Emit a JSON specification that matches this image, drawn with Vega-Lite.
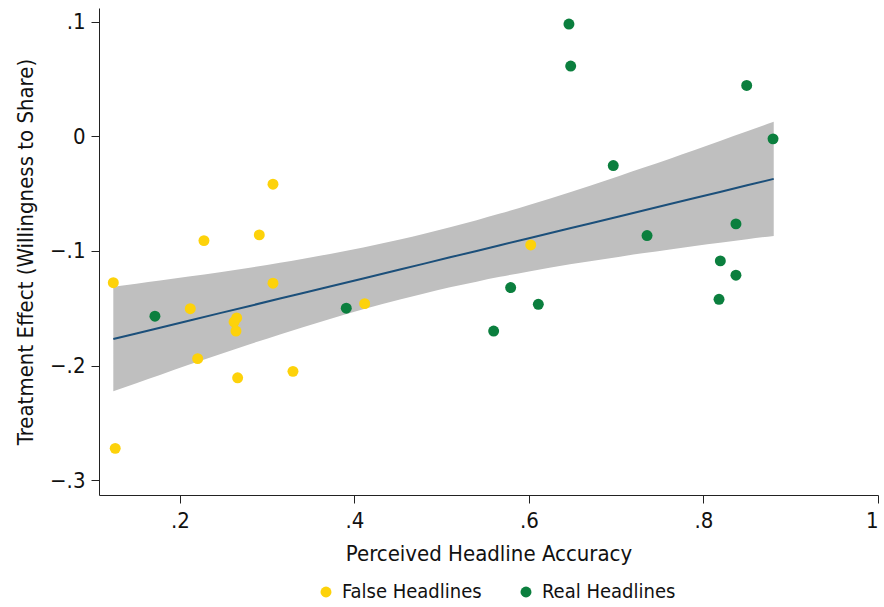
{
  "$schema": "https://vega.github.io/schema/vega-lite/v6.json",
  "width": 779,
  "height": 487,
  "autosize": "none",
  "padding": {"left": 99, "top": 8, "right": 6, "bottom": 112},
  "background": "white",
  "config": {
    "view": {"stroke": null},
    "font": "Liberation Sans Narrow, Arial Narrow, DejaVu Sans Condensed, sans-serif",
    "axis": {
      "labelFont": "Liberation Sans Narrow, Arial Narrow, DejaVu Sans Condensed, sans-serif",
      "titleFont": "Liberation Sans Narrow, Arial Narrow, DejaVu Sans Condensed, sans-serif",
      "labelFontSize": 22,
      "titleFontSize": 22,
      "titleFontWeight": "normal",
      "labelColor": "#111111",
      "titleColor": "#111111",
      "domainColor": "#222222",
      "tickColor": "#222222",
      "tickSize": 8,
      "grid": false
    },
    "legend": {
      "labelFont": "Liberation Sans Narrow, Arial Narrow, DejaVu Sans Condensed, sans-serif",
      "labelFontSize": 20,
      "labelColor": "#111111"
    }
  },
  "datasets": {
    "points": [
      {"acc": 0.1236, "te": -0.1277, "type": "False Headlines"},
      {"acc": 0.1258, "te": -0.2723, "type": "False Headlines"},
      {"acc": 0.3066, "te": -0.0418, "type": "False Headlines"},
      {"acc": 0.2275, "te": -0.0910, "type": "False Headlines"},
      {"acc": 0.2909, "te": -0.0860, "type": "False Headlines"},
      {"acc": 0.3066, "te": -0.1282, "type": "False Headlines"},
      {"acc": 0.2118, "te": -0.1504, "type": "False Headlines"},
      {"acc": 0.2650, "te": -0.1585, "type": "False Headlines"},
      {"acc": 0.2620, "te": -0.1620, "type": "False Headlines"},
      {"acc": 0.2642, "te": -0.1699, "type": "False Headlines"},
      {"acc": 0.2203, "te": -0.1940, "type": "False Headlines"},
      {"acc": 0.2661, "te": -0.2107, "type": "False Headlines"},
      {"acc": 0.3295, "te": -0.2051, "type": "False Headlines"},
      {"acc": 0.4117, "te": -0.1460, "type": "False Headlines"},
      {"acc": 0.6020, "te": -0.0948, "type": "False Headlines"},
      {"acc": 0.1713, "te": -0.1570, "type": "Real Headlines"},
      {"acc": 0.3906, "te": -0.1500, "type": "Real Headlines"},
      {"acc": 0.6458, "te": 0.0980, "type": "Real Headlines"},
      {"acc": 0.6478, "te": 0.0613, "type": "Real Headlines"},
      {"acc": 0.8495, "te": 0.0444, "type": "Real Headlines"},
      {"acc": 0.8797, "te": -0.0022, "type": "Real Headlines"},
      {"acc": 0.6966, "te": -0.0255, "type": "Real Headlines"},
      {"acc": 0.7353, "te": -0.0866, "type": "Real Headlines"},
      {"acc": 0.8372, "te": -0.0764, "type": "Real Headlines"},
      {"acc": 0.8193, "te": -0.1087, "type": "Real Headlines"},
      {"acc": 0.8372, "te": -0.1212, "type": "Real Headlines"},
      {"acc": 0.8178, "te": -0.1422, "type": "Real Headlines"},
      {"acc": 0.5790, "te": -0.1320, "type": "Real Headlines"},
      {"acc": 0.6107, "te": -0.1466, "type": "Real Headlines"},
      {"acc": 0.5595, "te": -0.1699, "type": "Real Headlines"}
    ],
    "fit": [
      {"acc": 0.1236, "fit": -0.1769, "lo": -0.2225, "hi": -0.1312},
      {"acc": 0.1500, "fit": -0.1720, "lo": -0.2154, "hi": -0.1286},
      {"acc": 0.1771, "fit": -0.1670, "lo": -0.2082, "hi": -0.1258},
      {"acc": 0.2100, "fit": -0.1609, "lo": -0.1994, "hi": -0.1224},
      {"acc": 0.2458, "fit": -0.1543, "lo": -0.1901, "hi": -0.1185},
      {"acc": 0.2800, "fit": -0.1480, "lo": -0.1814, "hi": -0.1146},
      {"acc": 0.3146, "fit": -0.1416, "lo": -0.1729, "hi": -0.1103},
      {"acc": 0.3400, "fit": -0.1369, "lo": -0.1668, "hi": -0.1070},
      {"acc": 0.3719, "fit": -0.1310, "lo": -0.1594, "hi": -0.1026},
      {"acc": 0.4100, "fit": -0.1240, "lo": -0.1510, "hi": -0.0970},
      {"acc": 0.4521, "fit": -0.1162, "lo": -0.1423, "hi": -0.0901},
      {"acc": 0.4800, "fit": -0.1111, "lo": -0.1371, "hi": -0.0851},
      {"acc": 0.5095, "fit": -0.1056, "lo": -0.1318, "hi": -0.0794},
      {"acc": 0.5400, "fit": -0.1000, "lo": -0.1268, "hi": -0.0732},
      {"acc": 0.5668, "fit": -0.0950, "lo": -0.1226, "hi": -0.0674},
      {"acc": 0.6000, "fit": -0.0889, "lo": -0.1179, "hi": -0.0599},
      {"acc": 0.6470, "fit": -0.0802, "lo": -0.1117, "hi": -0.0487},
      {"acc": 0.6700, "fit": -0.0760, "lo": -0.1089, "hi": -0.0431},
      {"acc": 0.7043, "fit": -0.0697, "lo": -0.1050, "hi": -0.0344},
      {"acc": 0.7300, "fit": -0.0649, "lo": -0.1021, "hi": -0.0277},
      {"acc": 0.7616, "fit": -0.0591, "lo": -0.0987, "hi": -0.0195},
      {"acc": 0.7900, "fit": -0.0538, "lo": -0.0957, "hi": -0.0119},
      {"acc": 0.8189, "fit": -0.0485, "lo": -0.0929, "hi": -0.0041},
      {"acc": 0.8500, "fit": -0.0427, "lo": -0.0898, "hi": 0.0044},
      {"acc": 0.8805, "fit": -0.0371, "lo": -0.0869, "hi": 0.0127}
    ]
  },
  "layer": [
    {
      "data": {"name": "fit"},
      "mark": {"type": "area", "color": "#bfbfbf", "opacity": 1, "interpolate": "monotone"},
      "encoding": {
        "x": {"field": "acc", "type": "quantitative"},
        "y": {"field": "lo", "type": "quantitative"},
        "y2": {"field": "hi"}
      }
    },
    {
      "data": {"name": "fit"},
      "mark": {"type": "line", "color": "#1b4f7a", "strokeWidth": 2},
      "encoding": {
        "x": {"field": "acc", "type": "quantitative"},
        "y": {"field": "fit", "type": "quantitative"}
      }
    },
    {
      "data": {"name": "points"},
      "mark": {"type": "circle", "size": 120, "opacity": 1},
      "encoding": {
        "x": {
          "field": "acc",
          "type": "quantitative",
          "scale": {"domain": [0.1072, 1.0], "nice": false, "zero": false},
          "axis": {
            "title": "Perceived Headline Accuracy",
            "values": [0.2, 0.4, 0.6, 0.8, 1.0],
            "labelExpr": "datum.value == 1 ? '1' : replace(format(datum.value, '.1f'), '0.', '.')",
            "labelPadding": 7,
            "titlePadding": 12
          }
        },
        "y": {
          "field": "te",
          "type": "quantitative",
          "scale": {"domain": [-0.313, 0.112], "nice": false, "zero": false},
          "axis": {
            "title": "Treatment Effect (Willingness to Share)",
            "values": [-0.3, -0.2, -0.1, 0, 0.1],
            "labelExpr": "datum.value == 0 ? '0' : replace(format(datum.value, '.1f'), '0.', '.')",
            "labelPadding": 6,
            "titlePadding": 12
          }
        },
        "color": {
          "field": "type",
          "type": "nominal",
          "scale": {"domain": ["False Headlines", "Real Headlines"], "range": ["#fdd20a", "#0b7f3e"]},
          "legend": {
            "title": null,
            "orient": "none",
            "direction": "horizontal",
            "legendX": 217,
            "legendY": 574,
            "symbolType": "circle",
            "symbolSize": 120,
            "symbolOpacity": 1,
            "labelOffset": 6,
            "columnPadding": 34
          }
        }
      }
    }
  ]
}
